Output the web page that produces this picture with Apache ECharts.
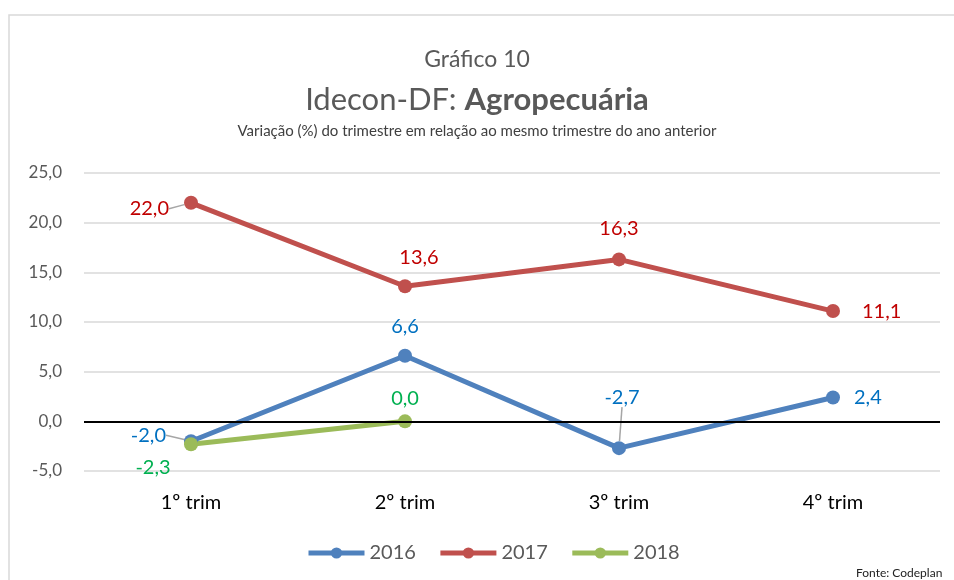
<!DOCTYPE html>
<html>
<head>
<meta charset="utf-8">
<script src="https://cdn.jsdelivr.net/npm/echarts@6/dist/echarts.min.js"></script>
<style>
html, body { margin: 0; padding: 0; background: #fff; }
#chart { width: 954px; height: 580px; }
</style>
</head>
<body>
<div id="chart"></div>
<script>
const categories = ['1º trim', '2º trim', '3º trim', '4º trim'];
const values2016 = [-2.0, 6.6, -2.7, 2.4];
const values2017 = [22.0, 13.6, 16.3, 11.1];
const values2018 = [-2.3, 0.0];
const yTicks = { min: -5, max: 25, interval: 5 };

const font = 'Lato, "Open Sans", sans-serif';
const fmt = (v) => v.toFixed(1).replace('.', ',');

// label placement per point, as in the original Excel chart
const pos2016 = [
	{ position: 'left', distance: 4 },
	{ position: 'top', distance: 12 },
	{ position: 'top', distance: 4 },
	{ position: 'right', distance: 14 },
];
const pos2017 = [
	{ position: 'left', distance: 4 },
	{ position: 'top', distance: 12 },
	{ position: 'top', distance: 14 },
	{ position: 'right', distance: 22 },
];
const pos2018 = [
	{ position: 'bottom', distance: 4, offset: [-38, 2] },
	{ position: 'top', distance: 6 },
];
// nudged labels; the ones with line: true get a leader line
const moved2016 = { 0: { dx: -14, dy: -6, line: true }, 2: { dx: 3, dy: -30, line: true } };
const moved2017 = { 0: { dx: -11, dy: 6, line: true }, 1: { dx: 14, dy: 0 } };

function build(values, placement, color, moved) {
	return values.map((v, i) => ({
		value: v,
		label: Object.assign({ color: color }, placement[i]),
		labelLine: { show: !!(moved && moved[i] && moved[i].line) },
	}));
}

function lineSeries(name, values, placement, lineColor, labelColor, moved) {
	const s = {
		name: name,
		type: 'line',
		data: build(values, placement, labelColor, moved),
		symbol: 'circle',
		symbolSize: 14,
		lineStyle: { width: 5, color: lineColor },
		itemStyle: { color: lineColor },
		label: {
			show: true,
			fontFamily: font,
			fontSize: 20,
			formatter: (p) => fmt(p.value),
		},
		emphasis: { disabled: true },
	};
	if (moved) {
		s.labelLine = { show: false, lineStyle: { color: '#a6a6a6', width: 1.5 } };
		s.labelLayout = (p) => {
			const m = moved[p.dataIndex];
			return m ? { dx: m.dx, dy: m.dy } : {};
		};
	}
	return s;
}

const chart = echarts.init(document.getElementById('chart'));
chart.setOption({
	animation: false,
	backgroundColor: '#fff',
	title: [
		{
			text: 'Gráfico 10',
			left: 'center',
			top: 43,
			textStyle: { fontFamily: font, fontSize: 23, fontWeight: 'normal', color: '#595959' },
		},
		{
			text: 'Idecon-DF: {b|Agropecuária}',
			left: 'center',
			top: 79,
			textStyle: {
				fontFamily: font, fontSize: 31, fontWeight: 'normal', color: '#595959',
				rich: { b: { fontFamily: font, fontSize: 31, fontWeight: 'bold', color: '#595959' } },
			},
		},
		{
			text: 'Variação (%) do trimestre em relação ao mesmo trimestre do ano anterior',
			left: 'center',
			top: 119,
			textStyle: { fontFamily: font, fontSize: 15, fontWeight: 'normal', color: '#404040' },
		},
		{
			text: 'Fonte: Codeplan',
			left: 851,
			top: 562,
			textStyle: { fontFamily: font, fontSize: 12, fontWeight: 'normal', color: '#222' },
		},
	],
	graphic: [
		{
			type: 'rect',
			shape: { x: 9, y: 15, width: 980, height: 600 },
			style: { fill: 'none', stroke: '#d9d9d9', lineWidth: 1.5 },
			silent: true,
		},
	],
	legend: {
		bottom: 12,
		left: 301,
		itemWidth: 56,
		itemHeight: 14,
		itemGap: 22,
		lineStyle: { width: 5 },
		textStyle: { fontFamily: font, fontSize: 20, color: '#595959' },
		data: ['2016', '2017', '2018'],
	},
	grid: { left: 84, right: 14, top: 173, bottom: 109, containLabel: false },
	xAxis: {
		type: 'category',
		data: categories,
		boundaryGap: true,
		axisLine: { show: false },
		axisTick: { show: false },
		axisLabel: { fontFamily: font, fontSize: 20, color: '#000', margin: 22 },
	},
	yAxis: {
		type: 'value',
		min: yTicks.min,
		max: yTicks.max,
		interval: yTicks.interval,
		axisLine: { show: false },
		axisTick: { show: false },
		axisLabel: { fontFamily: font, fontSize: 17, color: '#595959', margin: 22, formatter: (v) => fmt(v) },
		splitLine: { lineStyle: { color: '#d9d9d9', width: 1.5 } },
	},
	series: [
		Object.assign(lineSeries('2016', values2016, pos2016, '#4f81bd', '#0070c0', moved2016), {
			markLine: {
				silent: true,
				symbol: 'none',
				label: { show: false },
				lineStyle: { color: '#000', width: 2, type: 'solid' },
				data: [{ yAxis: 0 }],
			},
		}),
		lineSeries('2017', values2017, pos2017, '#c0504d', '#c00000', moved2017),
		lineSeries('2018', values2018, pos2018, '#9bbb59', '#00b050'),
	],
});
</script>
</body>
</html>
